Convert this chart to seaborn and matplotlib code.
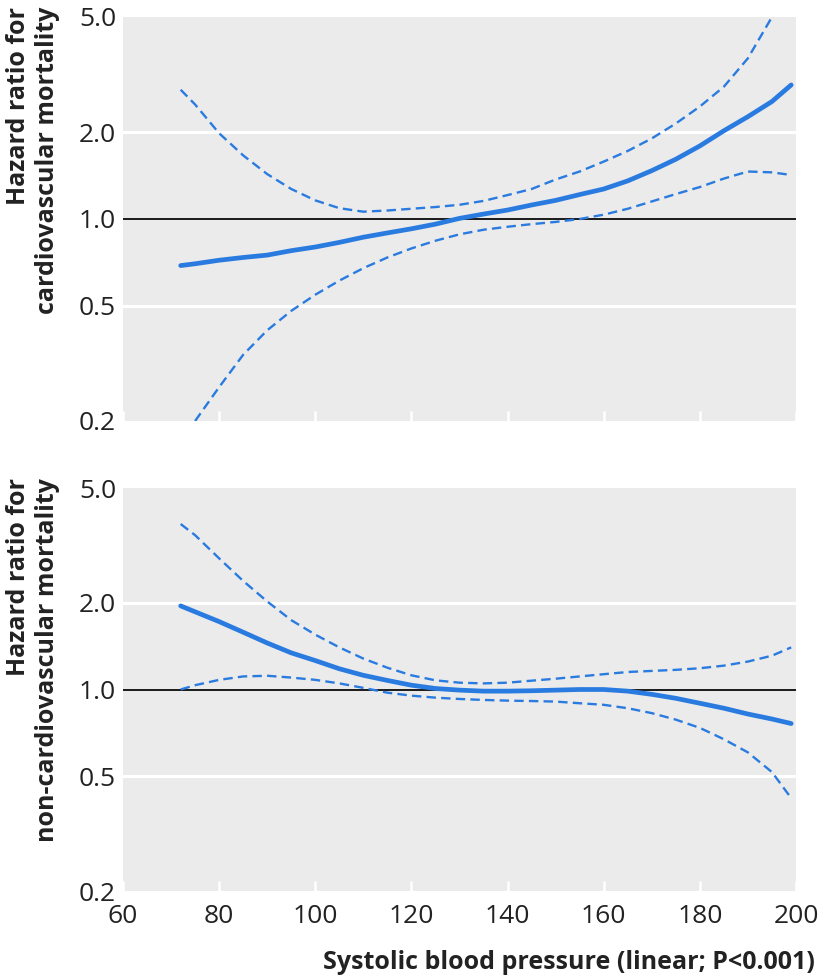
import numpy as np
import pandas as pd
import seaborn as sns
import matplotlib.pyplot as plt
from matplotlib.ticker import FixedLocator, NullLocator

nan = np.nan

# Systolic blood pressure grid
sbp = [72, 75, 80, 85, 90, 95, 100, 105, 110, 115, 120, 125, 130, 135,
       140, 145, 150, 155, 160, 165, 170, 175, 180, 185, 190, 195, 199]

# Cardiovascular mortality: hazard ratio and 95% CI
cv_hr = [0.69, 0.70, 0.72, 0.736, 0.75, 0.777, 0.80, 0.83, 0.865, 0.895, 0.925, 0.96, 1.005, 1.04,
         1.074, 1.118, 1.16, 1.215, 1.27, 1.355, 1.47, 1.61, 1.79, 2.02, 2.26, 2.55, 2.91]
cv_upper = [2.8, 2.49, 1.98, 1.66, 1.43, 1.27, 1.16, 1.09, 1.06, 1.07, 1.085, 1.10, 1.12, 1.155,
            1.21, 1.27, 1.37, 1.46, 1.58, 1.72, 1.90, 2.14, 2.45, 2.87, 3.6, 5.0, nan]
cv_lower = [nan, 0.20, 0.262, 0.339, 0.412, 0.481, 0.547, 0.612, 0.676, 0.736, 0.791, 0.841, 0.885, 0.918,
            0.94, 0.96, 0.977, 1.0, 1.035, 1.085, 1.15, 1.22, 1.29, 1.38, 1.46, 1.45, 1.42]

# Non-cardiovascular mortality: hazard ratio and 95% CI
ncv_hr = [1.95, 1.86, 1.72, 1.58, 1.45, 1.34, 1.26, 1.18, 1.12, 1.075, 1.035, 1.008, 0.995, 0.987,
          0.987, 0.99, 0.995, 1.0, 1.0, 0.987, 0.962, 0.932, 0.896, 0.861, 0.822, 0.79, 0.762]
ncv_upper = [3.75, 3.43, 2.85, 2.38, 2.02, 1.74, 1.55, 1.40, 1.28, 1.19, 1.12, 1.076, 1.056, 1.05,
             1.056, 1.073, 1.09, 1.11, 1.13, 1.15, 1.16, 1.17, 1.185, 1.21, 1.25, 1.31, 1.40]
ncv_lower = [1.0, 1.035, 1.08, 1.11, 1.116, 1.10, 1.08, 1.05, 1.013, 0.975, 0.952, 0.937, 0.927, 0.92,
             0.915, 0.912, 0.908, 0.896, 0.885, 0.861, 0.828, 0.786, 0.736, 0.672, 0.605, 0.517, 0.42]

y_ticks = [0.2, 0.5, 1.0, 2.0, 5.0]
x_ticks = [60, 80, 100, 120, 140, 160, 180, 200]

panels = [
    ("Hazard ratio for\ncardiovascular mortality", cv_hr, cv_upper, cv_lower),
    ("Hazard ratio for\nnon-cardiovascular mortality", ncv_hr, ncv_upper, ncv_lower),
]

sns.set_style("dark", {"axes.facecolor": "#ebebeb"})
plt.rcParams["font.family"] = ["Open Sans", "DejaVu Sans"]

BLUE = "#2a7be0"
TEXT = "#222222"
W, H = 820, 980
fig = plt.figure(figsize=(8.2, 9.8), dpi=100)

# axes boxes in pixels: (left, top, right, bottom)
boxes = [(123, 17, 796, 421), (123, 488, 796, 891)]

for i, ((label, hr, up, lo), (l, t, r, b)) in enumerate(zip(panels, boxes)):
    ax = fig.add_axes([l / W, 1 - b / H, (r - l) / W, (b - t) / H])
    df = pd.DataFrame({"sbp": sbp, "hr": hr, "upper": up, "lower": lo})

    ax.axhline(1.0, color="#1a1a1a", lw=1.4, zorder=2)
    for g in [0.5, 2.0]:
        ax.axhline(g, color="white", lw=2.2, zorder=1)

    # dashed confidence limits, solid hazard ratio
    for col in ["upper", "lower"]:
        sns.lineplot(data=df.dropna(subset=[col]), x="sbp", y=col, ax=ax, color=BLUE,
                     lw=1.7, linestyle=(0, (4, 2.2)), zorder=3)
    sns.lineplot(data=df, x="sbp", y="hr", ax=ax, color=BLUE, lw=3.4,
                 solid_capstyle="round", zorder=4)

    ax.set_yscale("log")
    ax.set_ylim(0.2, 5.0)
    ax.set_xlim(60, 200)
    ax.yaxis.set_major_locator(FixedLocator(y_ticks))
    ax.yaxis.set_minor_locator(NullLocator())
    ax.set_yticklabels([f"{v:.1f}" for v in y_ticks])
    ax.xaxis.set_major_locator(FixedLocator(x_ticks))
    ax.grid(False)
    for s in ax.spines.values():
        s.set_visible(False)

    ax.tick_params(axis="y", left=False, length=0, labelsize=19, colors=TEXT, pad=5)
    ax.tick_params(axis="x", bottom=True, direction="in", length=7, width=1.8,
                   color="white", labelsize=19, labelcolor=TEXT, pad=9)
    if i == 0:
        ax.tick_params(axis="x", labelbottom=False)
    ax.set_xlabel("")
    ax.set_ylabel("")

    fig.text(33 / W, 1 - (t - 10) / H, label, rotation=90, ha="center", va="top",
             multialignment="right", fontsize=18, fontweight="bold",
             color=TEXT, linespacing=1.2)

fig.text(815 / W, 1 - 962 / H, "Systolic blood pressure (linear; P<0.001)",
         ha="right", va="center", fontsize=18, fontweight="bold", color=TEXT)

fig.savefig("out.png", dpi=100)
